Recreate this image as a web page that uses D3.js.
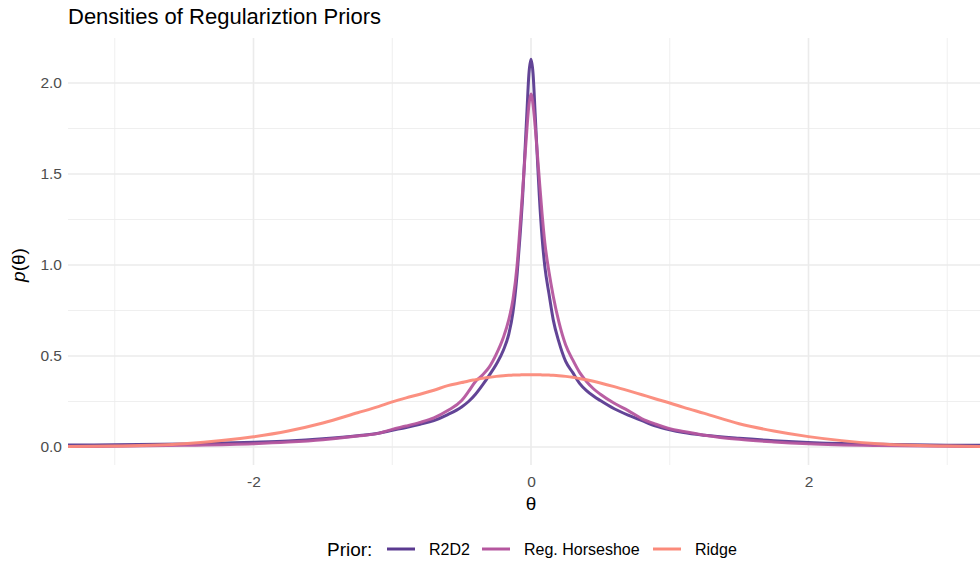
<!DOCTYPE html>
<html>
<head>
<meta charset="utf-8">
<script src="https://cdn.jsdelivr.net/npm/d3@7"></script>
<style>
  html, body { margin: 0; padding: 0; background: #fff; }
  svg { display: block; font-family: "Liberation Sans", Arial, sans-serif; }
</style>
</head>
<body>
<svg id="chart" width="980" height="563"></svg>
<script>
// Evaluation grid (theta) shared by all three density curves
const theta = [-3.35, -3, -2.5, -2, -1.75, -1.5, -1.25, -1.1, -1, -0.9, -0.8, -0.7, -0.6, -0.5, -0.45, -0.4, -0.35, -0.3, -0.25, -0.2, -0.16, -0.13, -0.1, -0.08, -0.06, -0.045, -0.03, -0.015,
  0,
  0.015, 0.03, 0.045, 0.06, 0.08, 0.1, 0.13, 0.16, 0.2, 0.25, 0.3, 0.35, 0.4, 0.45, 0.5, 0.6, 0.7, 0.8, 0.9, 1, 1.1, 1.25, 1.5, 1.75, 2, 2.5, 3, 3.35];

// Density estimates p(theta) for each prior
const r2d2 = [0.011, 0.012, 0.016, 0.026, 0.033, 0.045, 0.062, 0.076, 0.092, 0.107, 0.125, 0.145, 0.178, 0.22, 0.25, 0.29, 0.34, 0.395, 0.455, 0.53, 0.62, 0.74, 0.95, 1.15, 1.38, 1.6, 1.83, 2.05,
  2.13,
  2.05, 1.83, 1.6, 1.38, 1.15, 0.99, 0.84, 0.7, 0.58, 0.47, 0.41, 0.35, 0.31, 0.28, 0.255, 0.21, 0.175, 0.145, 0.115, 0.095, 0.08, 0.065, 0.048, 0.035, 0.025, 0.015, 0.01, 0.009];

const horseshoe = [0.003, 0.004, 0.009, 0.018, 0.027, 0.04, 0.06, 0.075, 0.097, 0.115, 0.135, 0.16, 0.2, 0.255, 0.305, 0.36, 0.395, 0.44, 0.51, 0.6, 0.7, 0.81, 1.0, 1.2, 1.41, 1.58, 1.74, 1.88,
  1.94,
  1.88, 1.76, 1.62, 1.47, 1.28, 1.12, 0.96, 0.83, 0.69, 0.56, 0.48, 0.41, 0.36, 0.32, 0.29, 0.24, 0.2, 0.155, 0.125, 0.1, 0.085, 0.065, 0.042, 0.028, 0.018, 0.008, 0.004, 0.003];

const ridge = [0.002, 0.005, 0.018, 0.056, 0.088, 0.132, 0.188, 0.222, 0.248, 0.27, 0.29, 0.312, 0.337, 0.354, 0.363, 0.37, 0.377, 0.383, 0.388, 0.392, 0.394, 0.395, 0.396, 0.396, 0.397, 0.397, 0.397, 0.397,
  0.397,
  0.397, 0.397, 0.397, 0.397, 0.396, 0.396, 0.395, 0.394, 0.392, 0.388, 0.383, 0.376, 0.369, 0.361, 0.352, 0.332, 0.31, 0.287, 0.264, 0.242, 0.218, 0.185, 0.128, 0.088, 0.057, 0.018, 0.005, 0.002];

const priorNames = ["R2D2", "Reg. Horseshoe", "Ridge"];
const priorColors = ["#5a3a90", "#b5569e", "#fb8a7a"];
const priorSeries = [r2d2, horseshoe, ridge];

const xTicks = [-2, 0, 2];
const yTicks = [0, 0.5, 1, 1.5, 2];

const svg = d3.select("#chart");
const W = 980, H = 563;
const panelLeft = 68, panelTop = 38, panelBottom = 465;

const x = d3.scaleLinear().domain([-3.337, 3.337]).range([panelLeft, 994]);
const y = d3.scaleLinear().domain([0, 2.0]).range([447, 83]);

// Panel gridlines (minor then major)
const grid = svg.append("g");
const xMinor = [-3, -1, 1, 3];
const yMinor = [0.25, 0.75, 1.25, 1.75];
grid.selectAll(".xminor").data(xMinor).join("line")
  .attr("x1", d => x(d)).attr("x2", d => x(d))
  .attr("y1", panelTop).attr("y2", panelBottom)
  .attr("stroke", "#ebebeb").attr("stroke-width", 0.8);
grid.selectAll(".yminor").data(yMinor).join("line")
  .attr("x1", panelLeft).attr("x2", W)
  .attr("y1", d => y(d)).attr("y2", d => y(d))
  .attr("stroke", "#ebebeb").attr("stroke-width", 0.8);
grid.selectAll(".xmajor").data(xTicks).join("line")
  .attr("x1", d => x(d)).attr("x2", d => x(d))
  .attr("y1", panelTop).attr("y2", panelBottom)
  .attr("stroke", "#ebebeb").attr("stroke-width", 1.6);
grid.selectAll(".ymajor").data(yTicks).join("line")
  .attr("x1", panelLeft).attr("x2", W)
  .attr("y1", d => y(d)).attr("y2", d => y(d))
  .attr("stroke", "#ebebeb").attr("stroke-width", 1.6);

// Axes: labels only, no domain lines or ticks
const xAxis = svg.append("g").attr("transform", `translate(0,${panelBottom})`)
  .call(d3.axisBottom(x).tickValues(xTicks).tickFormat(d => String(d)).tickSize(0).tickPadding(11));
const yAxis = svg.append("g").attr("transform", `translate(${panelLeft},0)`)
  .call(d3.axisLeft(y).tickValues(yTicks).tickFormat(d => d.toFixed(1)).tickSize(0).tickPadding(6));
[xAxis, yAxis].forEach(a => {
  a.select(".domain").remove();
  a.selectAll("text").attr("fill", "#4d4d4d").style("font-size", "15.5px")
    .style("font-family", "'Liberation Sans', Arial, sans-serif");
});

// Density curves
const line = d3.line()
  .x((d, i) => x(theta[i]))
  .y(d => y(d))
  .curve(d3.curveMonotoneX);

svg.append("defs").append("clipPath").attr("id", "panel")
  .append("rect").attr("x", panelLeft).attr("y", 30).attr("width", W - panelLeft).attr("height", 440);

svg.append("g").attr("clip-path", "url(#panel)")
  .selectAll("path").data(priorSeries).join("path")
  .attr("d", d => line(d))
  .attr("fill", "none")
  .attr("stroke", (d, i) => priorColors[i])
  .attr("stroke-width", 3)
  .attr("stroke-opacity", 0.95)
  .attr("stroke-linejoin", "round");

// Title
svg.append("text").attr("x", panelLeft).attr("y", 24)
  .style("font-size", "22px").attr("fill", "#000")
  .text("Densities of Regulariztion Priors");

// Axis titles
svg.append("text").attr("x", x(0)).attr("y", 510)
  .attr("text-anchor", "middle").style("font-size", "19px").attr("fill", "#000")
  .text("θ");

const yt = svg.append("text")
  .attr("transform", "translate(25,265) rotate(-90)")
  .attr("text-anchor", "middle").style("font-size", "19px").attr("fill", "#000");
yt.append("tspan").style("font-style", "italic").text("p");
yt.append("tspan").text("(θ)");

// Legend
const legend = svg.append("g");
legend.append("text").attr("x", 327).attr("y", 556)
  .style("font-size", "19px").attr("fill", "#000").text("Prior:");
const keyX = [387, 482, 653];
priorNames.forEach((name, i) => {
  legend.append("line")
    .attr("x1", keyX[i]).attr("x2", keyX[i] + 28)
    .attr("y1", 549).attr("y2", 549)
    .attr("stroke", priorColors[i]).attr("stroke-width", 3);
  legend.append("text").attr("x", keyX[i] + 42).attr("y", 555)
    .style("font-size", "16px").attr("fill", "#000").text(name);
});
</script>
</body>
</html>
